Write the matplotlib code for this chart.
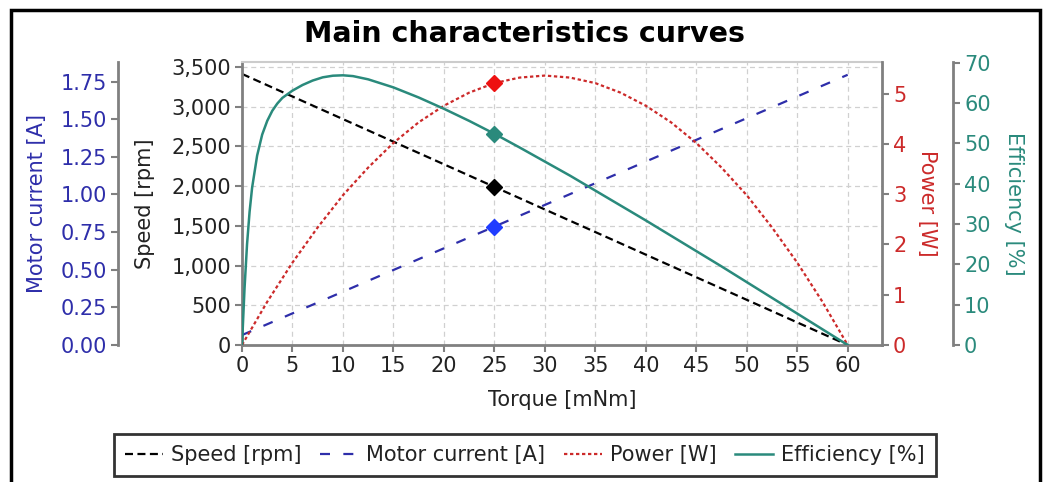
import matplotlib
matplotlib.use("Agg")
import matplotlib.pyplot as plt
from matplotlib.ticker import FuncFormatter, MultipleLocator
from matplotlib.patches import Rectangle

# values
line_torque = [0, 60]
speed_rpm = [3410, 0]
current_a = [0.066, 1.795]

power_torque = [0, 2.5, 5, 7.5, 10, 12.5, 15, 17.5, 20, 22.5, 25, 27.5, 30,
                32.5, 35, 37.5, 40, 42.5, 45, 47.5, 50, 52.5, 55, 57.5, 60]
power_w = [0, 0.86, 1.64, 2.34, 2.98, 3.53, 4.02, 4.43, 4.76, 5.02, 5.21, 5.32, 5.36,
           5.32, 5.21, 5.02, 4.76, 4.43, 4.02, 3.53, 2.98, 2.34, 1.64, 0.86, 0]

eff_torque = [0, 0.25, 0.5, 0.75, 1, 1.5, 2, 2.5, 3, 3.5, 4, 5, 6, 7, 8, 9, 10, 11,
              12.5, 15, 17.5, 20, 22.5, 25, 27.5, 30, 32.5, 35, 37.5, 40, 42.5, 45,
              47.5, 50, 52.5, 55, 57.5, 60]
eff_pct = [0, 14, 25, 33, 39, 47, 52.2, 55.6, 58.1, 59.9, 61.3, 63.1, 64.5, 65.6, 66.4,
           66.8, 66.9, 66.7, 65.9, 63.9, 61.4, 58.6, 55.6, 52.4, 49.0, 45.5, 42.0, 38.3,
           34.6, 30.9, 27.1, 23.3, 19.5, 15.6, 11.7, 7.8, 3.9, 0]

op_torque = 25
op_speed = 1990
op_current = 0.786
op_power = 5.21
op_eff = 52.4

plt.rcParams['font.family'] = ['DejaVu Sans']
FS = 15
GRAY = '#808080'
C_CUR = '#2e2eaa'
C_POW = '#cc2a2a'
C_EFF = '#2a8a7c'

fig = plt.figure(figsize=(10.5, 4.82), dpi=100)
ax = fig.add_axes([242 / 1050, 1 - 345 / 482, 640 / 1050, 283 / 482])
ax_cur = ax.twinx()
ax_pow = ax.twinx()
ax_eff = ax.twinx()

# speed (host axes)
l_speed, = ax.plot(line_torque, speed_rpm, color='black', lw=1.6, dashes=(3.6, 2))
ax.plot(op_torque, op_speed, 'D', color='black', ms=8)
ax.set_xlim(0, 63.4)
ax.set_ylim(0, 3560)
ax.xaxis.set_major_locator(MultipleLocator(5))
ax.yaxis.set_major_locator(MultipleLocator(500))
ax.yaxis.set_major_formatter(FuncFormatter(lambda v, p: f"{int(v):,}"))
ax.grid(True, color='#d0d0d0', lw=0.9, dashes=(4, 3))
ax.set_axisbelow(True)
ax.set_xlabel("Torque [mNm]", fontsize=FS, color='#222222', labelpad=10)
ax.set_ylabel("Speed [rpm]", fontsize=FS, color='#222222', labelpad=12)
ax.tick_params(labelsize=FS, colors='#222222', length=5, width=1.5, pad=3)
ax.tick_params(axis='both', color=GRAY)
for s in ['left', 'bottom']:
    ax.spines[s].set_color(GRAY)
    ax.spines[s].set_linewidth(2)
ax.spines['top'].set_color('#cccccc')
ax.spines['top'].set_linewidth(1.5)
ax.spines['right'].set_visible(False)

# motor current (outer left)
l_cur, = ax_cur.plot(line_torque, current_a, color=C_CUR, lw=1.6, dashes=(4.5, 6))
ax_cur.plot(op_torque, op_current, 'D', color='#1f3cff', ms=8)
ax_cur.set_ylim(0, 1.88)
ax_cur.yaxis.set_major_locator(MultipleLocator(0.25))
ax_cur.yaxis.set_major_formatter(FuncFormatter(lambda v, p: f"{v:.2f}"))
ax_cur.yaxis.set_ticks_position('left')
ax_cur.yaxis.set_label_position('left')
ax_cur.spines['left'].set_position(('outward', 124 * 0.72))
ax_cur.set_ylabel("Motor current [A]", fontsize=FS, color=C_CUR, labelpad=10)
ax_cur.tick_params(axis='y', labelsize=FS, labelcolor=C_CUR, color=GRAY, length=5, width=1.5, pad=3)

# power (right)
l_pow, = ax_pow.plot(power_torque, power_w, color=C_POW, lw=1.6, dashes=(1.5, 1.2))
ax_pow.plot(op_torque, op_power, 'D', color='#ee1111', ms=8)
ax_pow.set_ylim(0, 5.63)
ax_pow.yaxis.set_major_locator(MultipleLocator(1))
ax_pow.set_ylabel("Power [W]", fontsize=FS, color=C_POW, rotation=270, labelpad=22)
ax_pow.tick_params(axis='y', labelsize=FS, labelcolor=C_POW, color=GRAY, length=5, width=1.5, pad=3)

# efficiency (outer right)
l_eff, = ax_eff.plot(eff_torque, eff_pct, color=C_EFF, lw=1.8)
ax_eff.plot(op_torque, op_eff, 'D', color=C_EFF, ms=8)
ax_eff.set_ylim(0, 70.2)
ax_eff.yaxis.set_major_locator(MultipleLocator(10))
ax_eff.spines['right'].set_position(('outward', 71 * 0.72))
ax_eff.set_ylabel("Efficiency [%]", fontsize=FS, color=C_EFF, rotation=270, labelpad=24)
ax_eff.tick_params(axis='y', labelsize=FS, labelcolor=C_EFF, color=GRAY, length=5, width=1.5, pad=3)

for a, side in [(ax_cur, 'left'), (ax_pow, 'right'), (ax_eff, 'right')]:
    for s in a.spines:
        a.spines[s].set_visible(s == side)
    a.spines[side].set_color(GRAY)
    a.spines[side].set_linewidth(2)

fig.text(0.5, 1 - 34 / 482, "Main characteristics curves", ha='center', va='center',
         fontsize=20.5, fontweight='bold')

leg = fig.legend([l_speed, l_cur, l_pow, l_eff],
                 ["Speed [rpm]", "Motor current [A]", "Power [W]", "Efficiency [%]"],
                 loc='center', bbox_to_anchor=(0.5, 1 - 455 / 482), ncol=4,
                 fontsize=FS, frameon=True, fancybox=False, edgecolor='black',
                 handlelength=1.8, handletextpad=0.4, columnspacing=0.9,
                 borderpad=0.55)
leg.get_frame().set_linewidth(2)
for t in leg.get_texts():
    t.set_color('#222222')

fig.patches.append(Rectangle((11 / 1050, -0.02), 1029 / 1050, 1.02 - 10 / 482,
                             transform=fig.transFigure, fill=False, lw=2.5,
                             edgecolor='black'))

fig.savefig("out.png", dpi=100)
